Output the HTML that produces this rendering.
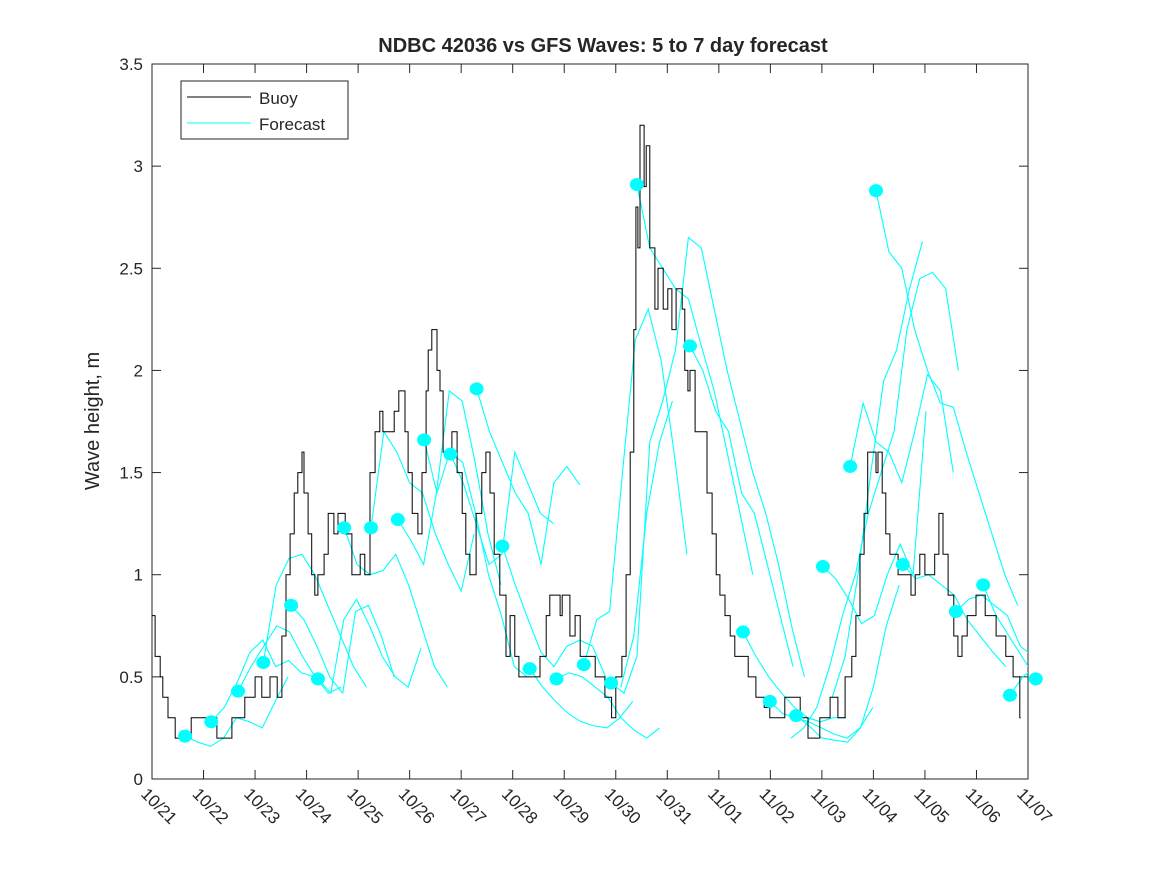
<!DOCTYPE html>
<html><head><meta charset="utf-8"><style>
body{margin:0;background:#fff}
svg text{font-family:"Liberation Sans",sans-serif;fill:#262626}
</style></head><body>
<svg id="chart" width="1167" height="875" xmlns="http://www.w3.org/2000/svg">
<rect width="1167" height="875" fill="#fff"/>
<text x="603" y="52" text-anchor="middle" font-size="20" font-weight="bold">NDBC 42036 vs GFS Waves: 5 to 7 day forecast</text>
<text transform="translate(99,421) rotate(-90)" text-anchor="middle" font-size="20">Wave height, m</text>
<g id="axes"></g>
<g id="series"></g>
<g id="legend">
<rect x="181" y="81" width="167" height="58" fill="#fff" stroke="#262626" stroke-width="1"/>
<line x1="187" y1="97" x2="251" y2="97" stroke="#000"/>
<text x="259" y="104" font-size="17">Buoy</text>
<line x1="187" y1="123" x2="251" y2="123" stroke="#00ffff"/>
<text x="259" y="130" font-size="17">Forecast</text>
</g>
</svg>
<script>
const xTickLabels=["10/21","10/22","10/23","10/24","10/25","10/26","10/27","10/28","10/29","10/30","10/31","11/01","11/02","11/03","11/04","11/05","11/06","11/07"];
const yTicks=[0,0.5,1,1.5,2,2.5,3,3.5];
const buoyDays=[0,.06,.16,.21,.31,.45,.76,1.26,1.55,1.8,2.0,2.13,2.29,2.43,2.52,2.6,2.68,2.76,2.83,2.91,2.95,3.03,3.1,3.16,3.22,3.34,3.42,3.53,3.61,3.75,3.88,4.04,4.13,4.23,4.33,4.42,4.48,4.7,4.79,4.91,4.97,5.05,5.16,5.24,5.32,5.36,5.43,5.53,5.59,5.65,5.82,5.92,6.02,6.09,6.17,6.29,6.4,6.48,6.56,6.64,6.75,6.87,6.95,7.04,7.12,7.53,7.65,7.72,7.92,7.96,8.11,8.21,8.31,8.6,8.79,8.92,9.0,9.12,9.2,9.28,9.35,9.39,9.43,9.47,9.55,9.59,9.66,9.76,9.82,9.92,10.01,10.09,10.17,10.29,10.34,10.4,10.44,10.54,10.77,10.87,10.95,11.02,11.12,11.22,11.31,11.57,11.72,11.88,11.99,12.28,12.58,12.73,12.96,13.16,13.31,13.45,13.58,13.66,13.74,13.82,13.89,14.05,14.09,14.17,14.24,14.32,14.48,14.73,14.81,14.9,15.0,15.19,15.27,15.35,15.45,15.56,15.64,15.72,15.82,15.99,16.17,16.38,16.57,16.71,16.84,16.86];
const buoyHeights=[.8,.6,.5,.4,.3,.2,.3,.2,.3,.4,.5,.4,.5,.4,.7,1.0,1.2,1.4,1.5,1.6,1.4,1.2,1.0,.9,1.0,1.1,1.3,1.2,1.3,1.2,1.0,1.1,1.0,1.5,1.7,1.8,1.7,1.8,1.9,1.7,1.5,1.3,1.2,1.5,1.9,2.1,2.2,2.0,1.9,1.6,1.7,1.5,1.3,1.1,1.0,1.3,1.5,1.6,1.4,1.1,.9,.6,.8,.6,.5,.6,.8,.9,.8,.9,.7,.8,.6,.5,.4,.3,.5,.6,1.0,1.6,2.2,2.8,2.6,3.2,2.9,3.1,2.6,2.3,2.5,2.3,2.4,2.2,2.4,2.3,2.0,1.9,2.0,1.7,1.4,1.2,1.0,.9,.8,.7,.6,.5,.4,.35,.3,.4,.3,.2,.3,.4,.3,.5,.6,.8,1.1,1.3,1.6,1.5,1.6,1.4,1.2,1.1,1.0,.9,1.0,1.1,1.0,1.1,1.3,1.1,.9,.7,.6,.7,.8,.9,.8,.7,.6,.5,.3,.3];
const fcStarts=[.64,1.15,1.67,2.16,2.70,3.22,3.73,4.25,4.77,5.28,5.79,6.30,6.80,7.33,7.85,8.38,8.91,9.41,10.44,11.47,11.99,12.5,13.02,13.55,14.05,14.57,15.6,16.13,16.65,17.15];
const fcHasDot=[1,1,1,1,1,1,1,1,1,1,1,1,1,1,1,1,1,1,1,1,1,1,1,1,1,1,1,1,1,1];
const fcValues=[
[.21,.18,.16,.2,.3,.28,.25,.38,.5],
[.28,.35,.47,.62,.68,.55,.58,.52,.5],
[.43,.55,.65,.75,.72,.6,.5,.42,.45],
[.57,.95,1.08,1.1,1.0,.85,.7,.55,.45],
[.85,.78,.65,.5,.42,.82,.85,.7,.5],
[.49,.42,.78,.88,.75,.6,.5,.45,.64],
[1.23,1.05,1.0,1.02,1.1,.95,.75,.55,.45],
[1.23,1.7,1.6,1.45,1.4,1.2,1.05,.92,1.2],
[1.27,1.17,1.05,1.4,1.9,1.85,1.55,1.2,.95],
[1.66,1.4,1.6,1.55,1.3,1.0,.8,.55,.5],
[1.59,1.45,1.25,1.05,1.1,1.6,1.45,1.3,1.25],
[1.91,1.7,1.55,1.4,1.3,1.05,1.45,1.53,1.44],
[1.14,.95,.78,.62,.55,.65,.68,.65,.5],
[.54,.45,.38,.32,.28,.26,.25,.3,.38],
[.49,.52,.5,.45,.4,.3,.24,.2,.25],
[.56,.78,.82,1.5,2.15,2.3,2.05,1.6,1.1],
[.47,.42,.6,1.65,1.85,2.1,2.65,2.6,2.3,2.0,1.75,1.5,1.3,1.05,.75,.5],
[2.91,2.6,2.5,2.4,2.35,2.12,1.9,1.6,1.3,1.0],
[2.12,2.0,1.8,1.7,1.4,1.3,1.05,.8,.55],
[.72,.6,.5,.42,.35,.3,.28,.3,.3],
[.38,.32,.3,.28,.25,.22,.2,.25,.35],
[.31,.26,.2,.19,.18,.25,.45,.75,.95],
[1.04,.98,.88,.76,.8,1.0,1.15,1.0,1.8],
[1.53,1.84,1.65,1.6,1.45,1.7,1.98,1.9,1.5],
[2.88,2.58,2.5,2.2,2.0,1.84,1.82,1.6,1.4,1.2,1.0,.85],
[1.05,.98,1.0,.95,.9,.78,.7,.62,.55],
[.82,.88,.9,.85,.8,.65,.6,.5,.45],
[.95,.8,.7,.6,.5,.45,.42,.5,.52],
[.41,.5,.55,.5,.45,.43],
[.49,.45,.4]
];
const extraStarts=[9.1,13.2,12.4];
const extraValues=[
[.45,.7,1.3,1.65,1.85],
[.4,.6,1.0,1.5,1.95,2.1,2.4,2.63],
[.2,.25,.35,.55,.8,1.0,1.3,1.5,1.7,2.2,2.45,2.48,2.4,2.0]
];
const X0=152,X1=1028,Y0=779,Y1=64;
const xs=d=>X0+d*(X1-X0)/17;
const ys=v=>Y0-v*(Y0-Y1)/3.5;
const NS="http://www.w3.org/2000/svg";
function mk(tag,attrs,parent){const e=document.createElementNS(NS,tag);for(const k in attrs)e.setAttribute(k,attrs[k]);parent.appendChild(e);return e;}
const axes=document.getElementById('axes'),ser=document.getElementById('series');
const defs=mk('defs',{},ser);
const cp=mk('clipPath',{id:'clip'},defs);mk('rect',{x:X0,y:Y1,width:X1-X0,height:Y0-Y1},cp);
const frame=mk('rect',{x:X0,y:Y1,width:X1-X0,height:Y0-Y1,fill:'none',stroke:'#262626','stroke-width':1},axes);


yTicks.forEach(v=>{const y=ys(v);
 mk('line',{x1:X0,x2:X0+9,y1:y,y2:y,stroke:'#262626'},axes);
 mk('line',{x1:X1,x2:X1-9,y1:y,y2:y,stroke:'#262626'},axes);
 const t=mk('text',{x:X0-9,y:y+6,'text-anchor':'end','font-size':17},axes);t.textContent=String(v);
 
 
});
xTickLabels.forEach((lab,i)=>{const x=xs(i);
 mk('line',{x1:x,x2:x,y1:Y0,y2:Y0-9,stroke:'#262626'},axes);
 mk('line',{x1:x,x2:x,y1:Y1,y2:Y1+9,stroke:'#262626'},axes);
 const t=mk('text',{transform:`translate(${x-12},${Y0+16}) rotate(45)`,'font-size':17},axes);t.textContent=lab;
 
 
});
const g=mk('g',{'clip-path':'url(#clip)'},ser);
function fcLine(start,vals,name){const pts=vals.map((v,j)=>xs(start+j*0.25).toFixed(1)+','+ys(v).toFixed(1)).join(' ');
 const p=mk('polyline',{points:pts,fill:'none',stroke:'#00ffff','stroke-width':1.1},g);
 
 }
fcStarts.forEach((s,i)=>fcLine(s,fcValues[i],'forecast-line'));
extraStarts.forEach((s,i)=>fcLine(s,extraValues[i],'forecast-line'));
let d='';
buoyDays.forEach((t,i)=>{const x=xs(t).toFixed(1),y=ys(buoyHeights[i]).toFixed(1);
 if(i===0)d+=`M${x},${y}`;else d+=`H${x}V${y}`;});
const bp=mk('path',{d:d,fill:'none',stroke:'#000','stroke-width':1},g);


fcStarts.forEach((s,i)=>{if(!fcHasDot[i])return;
 const c=mk('ellipse',{cx:xs(s),cy:ys(fcValues[i][0]),rx:7,ry:6.5,fill:'#00ffff'},ser);
 
 
});
</script>
</body></html>
